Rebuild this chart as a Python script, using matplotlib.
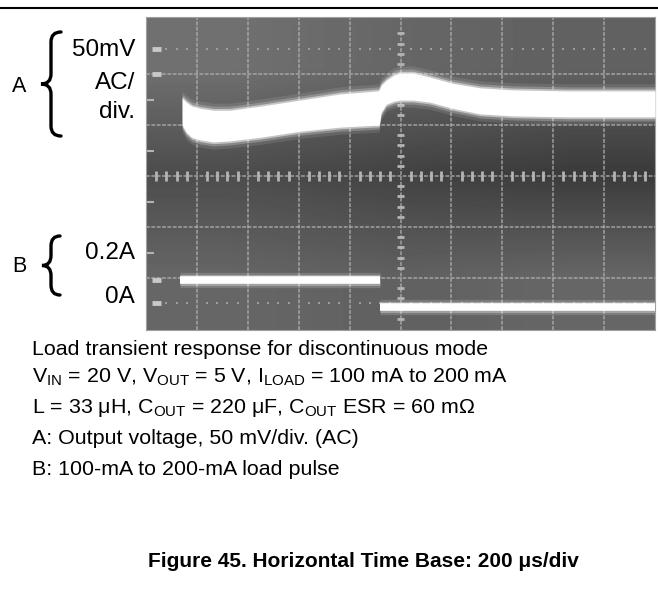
import numpy as np
import matplotlib.pyplot as plt
from matplotlib.path import Path
from matplotlib.patches import PathPatch

plt.rcParams['font.family'] = ['Liberation Sans', 'DejaVu Sans']
plt.rcParams['mathtext.fontset'] = 'custom'
plt.rcParams['mathtext.rm'] = 'Liberation Sans'
plt.rcParams['mathtext.it'] = 'Liberation Sans:italic'
plt.rcParams['mathtext.bf'] = 'Liberation Sans:bold'

## Trace A (output voltage), envelope of the thick trace, in divisions
a_x = [0.71, 0.79, 0.90, 1.06, 1.32, 1.65, 2.24, 3.03, 3.81, 4.56,
       4.58, 4.62, 4.72, 4.87, 4.99, 5.25, 5.58, 6.02, 6.56, 7.21, 8.3, 10.0]
a_top = [1.53, 1.45, 1.37, 1.33, 1.29, 1.29, 1.37, 1.49, 1.61, 1.67,
         1.69, 1.78, 1.88, 1.98, 2.02, 2.02, 1.94, 1.82, 1.73, 1.69, 1.67, 1.67]
a_bot = [1.00, 0.86, 0.76, 0.71, 0.67, 0.69, 0.76, 0.88, 0.96, 1.00,
         1.00, 1.25, 1.41, 1.47, 1.49, 1.49, 1.45, 1.33, 1.22, 1.18, 1.16, 1.16]

## Trace B (load current)
b1_x = [0.67, 4.60]
b1_y = [-2.04, -2.04]
b2_x = [4.60, 10.0]
b2_y = [-2.57, -2.57]

## Texte
caption = [
    'Load transient response for discontinuous mode',
    r'V$_{\mathrm{IN}}$ = 20 V, V$_{\mathrm{OUT}}$ = 5 V, I$_{\mathrm{LOAD}}$ = 100 mA to 200 mA',
    r'L = 33 μH, C$_{\mathrm{OUT}}$ = 220 μF, C$_{\mathrm{OUT}}$ ESR = 60 mΩ',
    'A: Output voltage, 50 mV/div. (AC)',
    'B: 100-mA to 200-mA load pulse',
]
caption_y = [355, 383, 413, 444, 475]
title = 'Figure 45. Horizontal Time Base: 200 μs/div'

W, H = 658, 602
fig = plt.figure(figsize=(W/100, H/100), dpi=100)

# overlay in pixel coordinates for labels
ax0 = fig.add_axes([0, 0, 1, 1])
ax0.set_xlim(0, W)
ax0.set_ylim(H, 0)
ax0.axis('off')

## Ecran de l'oscilloscope
x0, x1, y0, y1 = 146, 655, 17, 330
ax = fig.add_axes([x0/W, 1 - y1/H, (x1-x0)/W, (y1-y0)/H])
xmin, xmax = 0, 10
ymin, ymax = -3.02, 3.12
ax.set_xlim(xmin, xmax)
ax.set_ylim(ymin, ymax)

bg = np.array([[0.44, 0.40, 0.38],
               [0.30, 0.26, 0.23],
               [0.40, 0.38, 0.40]])
ax.imshow(bg, cmap='gray', vmin=0, vmax=1, extent=[xmin, xmax, ymin, ymax],
          interpolation='bilinear', aspect='auto', zorder=0)

gc = '#b4b4b4'
for xv in range(1, 10):
    ax.axvline(xv, color=gc, lw=1.1, ls=(0, (2.5, 1)), alpha=0.8, zorder=1)
for yv in range(-2, 3):
    ax.axhline(yv, color=gc, lw=1.1, ls=(0, (2.5, 1)), alpha=0.8, zorder=1)

# minor ticks on the center lines
mx = np.array([v/5 for v in range(1, 50) if v % 5])
ax.vlines(mx, -0.09, 0.09, color=gc, lw=2, zorder=1)
my = np.array([v/5 for v in range(-15, 16) if v % 5])
ax.hlines(my, 4.93, 5.07, color=gc, lw=2, zorder=1)
# dotted rows
ax.plot(mx, np.full_like(mx, 2.5), 's', ms=1.5, mew=0, color='#9c9c9c', zorder=1)
ax.plot(mx, np.full_like(mx, -2.5), 's', ms=1.5, mew=0, color='#9c9c9c', zorder=1)
# left edge ticks
ax.hlines([-1.5, -0.5, 0.5, 1.5], 0, 0.15, color=gc, lw=1.5, zorder=1)
# channel markers
ax.hlines([2.5, 2.0, -2.04, -2.5], 0.12, 0.30, color='#c8c8c8', lw=3.5, zorder=2)

# trace A with soft glow
a_top = np.array(a_top)
a_bot = np.array(a_bot)
for pad, al in [(0.14, 0.10), (0.08, 0.22), (0.035, 0.5)]:
    ax.fill_between(a_x, a_bot - pad, a_top + pad, color='white', alpha=al, lw=0, zorder=3)
ax.fill_between(a_x, a_bot, a_top, color='white', lw=0, zorder=3)

# trace B
for xs, ys in [(b1_x, b1_y), (b2_x, b2_y)]:
    ax.plot(xs, ys, color='white', lw=11, alpha=0.15, solid_capstyle='butt', zorder=3)
    ax.plot(xs, ys, color='white', lw=8, alpha=0.3, solid_capstyle='butt', zorder=3)
    ax.plot(xs, ys, color='white', lw=5.5, solid_capstyle='butt', zorder=4)

ax.set_xticks([])
ax.set_yticks([])
for s in ax.spines.values():
    s.set_color('#a0a0a0')
    s.set_linewidth(0.8)

## Accolades et etiquettes
def brace(axe, xl, xm, xr, ya, yb, lw=2.4):
    ym = (ya + yb) / 2
    d = min(10, (yb - ya) / 4)
    verts = [(xr, ya), (xm, ya), (xm, ya + d),
             (xm, ym - d), (xm, ym), (xl, ym),
             (xm, ym), (xm, ym + d),
             (xm, yb - d), (xm, yb), (xr, yb)]
    codes = [Path.MOVETO, Path.CURVE3, Path.CURVE3,
             Path.LINETO, Path.CURVE3, Path.CURVE3,
             Path.CURVE3, Path.CURVE3,
             Path.LINETO, Path.CURVE3, Path.CURVE3]
    axe.add_patch(PathPatch(Path(verts, codes), fill=False, lw=lw, color='black',
                            capstyle='round'))

brace(ax0, 41, 51, 61, 32, 136)
brace(ax0, 42, 51, 60, 236, 295)

ax0.text(19, 87, 'A', fontsize=15.5, ha='center', va='center')
ax0.text(135, 50, '50mV', fontsize=17.5, ha='right', va='center')
ax0.text(135, 83, 'AC/', fontsize=17.5, ha='right', va='center')
ax0.text(135, 112, 'div.', fontsize=17.5, ha='right', va='center')

ax0.text(19, 267, 'B', fontsize=15.5, ha='center', va='center')
ax0.text(135, 253, '0.2A', fontsize=17.5, ha='right', va='center')
ax0.text(135, 297, '0A', fontsize=17.5, ha='right', va='center')

# top rule
ax0.plot([0, W], [8, 8], color='black', lw=1.5)

for txt, yb in zip(caption, caption_y):
    ax0.text(32, yb, txt, fontsize=15.4, ha='left', va='baseline')

ax0.text(363, 567, title, fontsize=15, fontweight='bold', ha='center', va='baseline')

fig.savefig('out.png', dpi=100)
